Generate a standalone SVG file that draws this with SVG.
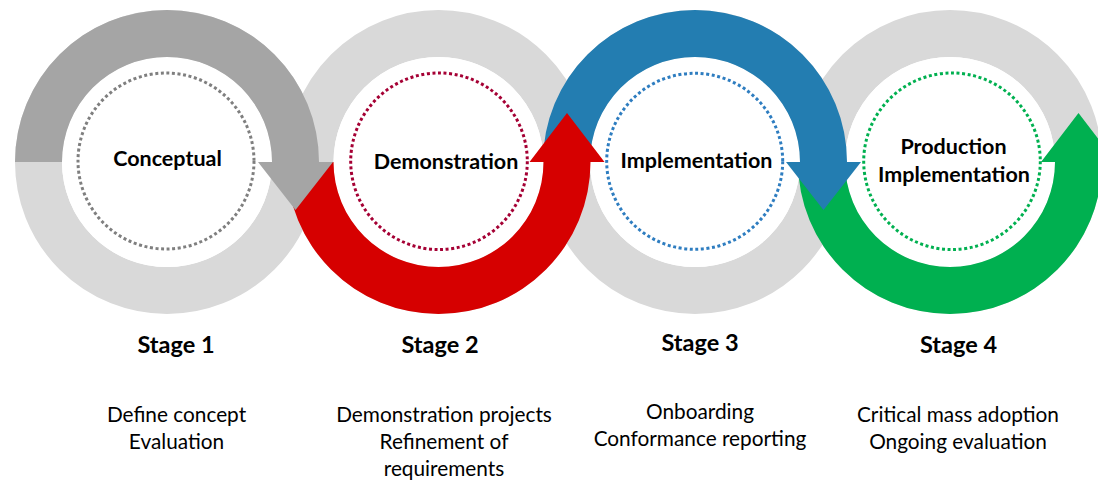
<svg xmlns="http://www.w3.org/2000/svg" width="1098" height="482" viewBox="0 0 1098 482">
<style>
.ring{fill:none;stroke:#D9D9D9;stroke-width:47}
.inner{fill:#FFFFFF}
.dot{fill:none;stroke-width:3;stroke-dasharray:3 2.6}
.lbl{font-family:Lato,"Liberation Sans",sans-serif;font-weight:bold;font-size:21.5px;fill:#000;text-anchor:middle}
.stage{font-family:Lato,"Liberation Sans",sans-serif;font-weight:bold;font-size:23.5px;fill:#000;text-anchor:middle}
.desc{font-family:Lato,"Liberation Sans",sans-serif;font-size:20.8px;fill:#000;text-anchor:middle}
</style>
<rect width="1098" height="482" fill="#FFFFFF"/>
<g id="rings">
<circle class="ring" cx="167" cy="162" r="128.5"/>
<circle class="ring" cx="438.5" cy="162" r="128.5"/>
<circle class="ring" cx="695" cy="162" r="128.5"/>
<circle class="ring" cx="950" cy="162" r="128.5"/>
<circle class="inner" cx="167" cy="162" r="105"/>
<circle class="inner" cx="438.5" cy="162" r="105"/>
<circle class="inner" cx="695" cy="162" r="105"/>
<circle class="inner" cx="950" cy="162" r="105"/>
</g>
<g id="connectors">
<path id="arc-green" fill="#00B050" d="M798,162 A152,152 0 0 0 1102,162 L1116,162 L1078.5,113 L1041,162 L1055,162 A105,105 0 0 1 845,162 Z"/>
<path id="arc-blue" fill="#237DB1" d="M543,162 A152,152 0 0 1 847,162 L861,162 L823.5,210 L786,162 L800,162 A105,105 0 0 0 590,162 Z"/>
<path id="arc-red" fill="#D60000" d="M286.5,162 A152,152 0 0 0 590.5,162 L604.5,162 L567,113 L529.5,162 L543.5,162 A105,105 0 0 1 333.5,162 Z"/>
<path id="arc-gray" fill="#A5A5A5" d="M15,162 A152,152 0 0 1 319,162 L333,162 L295.5,210 L258,162 L272,162 A105,105 0 0 0 62,162 Z"/>
</g>
<g id="stage1">
<circle class="dot" cx="166" cy="161" r="88" stroke="#7F7F7F"/>
<text class="lbl" x="167.5" y="166">Conceptual</text>
<text class="stage" x="176" y="353">Stage 1</text>
<text class="desc" x="176.5" y="422">Define concept</text>
<text class="desc" x="176.5" y="449">Evaluation</text>
</g>
<g id="stage2">
<circle class="dot" cx="439" cy="161.3" r="88.3" stroke="#A50034"/>
<text class="lbl" x="446" y="169">Demonstration</text>
<text class="stage" x="440" y="353">Stage 2</text>
<text class="desc" x="444" y="422">Demonstration projects</text>
<text class="desc" x="444" y="449">Refinement of</text>
<text class="desc" x="444" y="476">requirements</text>
</g>
<g id="stage3">
<circle class="dot" cx="694.7" cy="161.3" r="88" stroke="#2E7DC0"/>
<text class="lbl" x="696.5" y="168">Implementation</text>
<text class="stage" x="700" y="351">Stage 3</text>
<text class="desc" x="700" y="419">Onboarding</text>
<text class="desc" x="700" y="446">Conformance reporting</text>
</g>
<g id="stage4">
<circle class="dot" cx="952" cy="161.3" r="88.3" stroke="#00B050"/>
<text class="lbl" x="953.5" y="154">Production</text>
<text class="lbl" x="954" y="182">Implementation</text>
<text class="stage" x="958.5" y="353">Stage 4</text>
<text class="desc" x="958" y="422">Critical mass adoption</text>
<text class="desc" x="958" y="449">Ongoing evaluation</text>
</g>
</svg>
